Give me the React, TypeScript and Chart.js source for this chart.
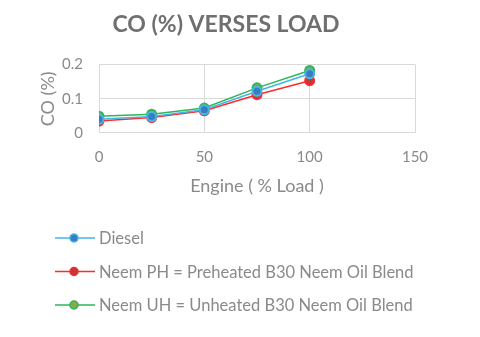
import React, { useEffect, useRef } from "react";
import { Chart, registerables } from "chart.js";

Chart.register(...registerables);

const loads = [0, 25, 50, 75, 100];
const dieselCO = [0.04, 0.048, 0.068, 0.122, 0.173];
const neemPHCO = [0.035, 0.045, 0.065, 0.112, 0.153];
const neemUHCO = [0.049, 0.055, 0.073, 0.132, 0.183];
const seriesNames = [
  "Diesel",
  "Neem PH = Preheated B30 Neem Oil Blend",
  "Neem UH = Unheated B30 Neem Oil Blend",
];
const xTicks = [0, 50, 100, 150];
const yTicks = [0, 0.1, 0.2];

const FONT = "Lato, 'Open Sans', sans-serif";

const legendPlugin = {
  id: "stackLegend",
  afterDraw(chart: any) {
    const ctx = chart.ctx;
    const x0 = 55;
    const y0 = 238;
    const gap = 33.5;
    ctx.save();
    chart.data.datasets.forEach((ds: any, i: number) => {
      const y = y0 + i * gap;
      ctx.strokeStyle = ds.borderColor;
      ctx.lineWidth = 1.5;
      ctx.beginPath();
      ctx.moveTo(x0, y);
      ctx.lineTo(x0 + 40, y);
      ctx.stroke();
      ctx.beginPath();
      ctx.arc(x0 + 19, y, 4, 0, Math.PI * 2);
      ctx.fillStyle = ds.pointBackgroundColor;
      ctx.fill();
      ctx.strokeStyle = ds.pointBorderColor;
      ctx.lineWidth = 1.5;
      ctx.stroke();
      ctx.fillStyle = "#8a8a8a";
      ctx.font = `16.5px ${FONT}`;
      ctx.textBaseline = "middle";
      ctx.textAlign = "left";
      ctx.fillText(ds.label, x0 + 44, y + 1);
    });
    ctx.restore();
  },
};

export default function App() {
  const ref = useRef<HTMLCanvasElement>(null);
  useEffect(() => {
    if (!ref.current) return;
    const mk = (vals: number[]) => loads.map((x, i) => ({ x, y: vals[i] }));
    const chart = new Chart(ref.current, {
      type: "line",
      data: {
        datasets: [
          {
            label: seriesNames[0],
            data: mk(dieselCO),
            borderColor: "#45b5e6",
            pointBackgroundColor: "#3a7cc0",
            pointBorderColor: "#45b5e6",
            borderWidth: 1.5,
            pointRadius: 4.5,
            pointBorderWidth: 2,
          },
          {
            label: seriesNames[1],
            data: mk(neemPHCO),
            borderColor: "#ff2a2a",
            pointBackgroundColor: "#c0383a",
            pointBorderColor: "#ff2a2a",
            borderWidth: 1.5,
            pointRadius: 4.5,
            pointBorderWidth: 2,
          },
          {
            label: seriesNames[2],
            data: mk(neemUHCO),
            borderColor: "#2fb55a",
            pointBackgroundColor: "#8aa94a",
            pointBorderColor: "#2fb55a",
            borderWidth: 1.5,
            pointRadius: 4.5,
            pointBorderWidth: 2,
          },
        ],
      },
      options: {
        animation: false,
        responsive: true,
        maintainAspectRatio: false,
        layout: { padding: { left: 37, right: 65, top: 0, bottom: 140 } },
        plugins: {
          legend: { display: false },
          tooltip: { enabled: false },
          title: {
            display: true,
            text: "CO (%) VERSES LOAD",
            color: "#6f6f6f",
            font: { family: FONT, size: 23, weight: "bold" },
            padding: { top: 11, bottom: 26 },
          },
        },
        scales: {
          x: {
            type: "linear",
            min: 0,
            max: 150,
            afterBuildTicks: (s: any) => {
              s.ticks = xTicks.map((v) => ({ value: v }));
            },
            afterFit: (s: any) => {
              s.height = 64;
            },
            grid: { color: "#d9d9d9", drawTicks: false },
            border: { display: false },
            ticks: {
              color: "#8a8a8a",
              font: { family: FONT, size: 15 },
              padding: 15,
            },
            title: {
              display: true,
              text: "Engine ( % Load )",
              color: "#8a8a8a",
              font: { family: FONT, size: 18 },
              padding: { top: 4, bottom: 0 },
            },
          },
          y: {
            min: 0,
            max: 0.2,
            afterBuildTicks: (s: any) => {
              s.ticks = yTicks.map((v) => ({ value: v }));
            },
            afterFit: (s: any) => {
              s.width = 62;
            },
            grid: { color: "#d9d9d9", drawTicks: false },
            border: { display: false },
            ticks: {
              color: "#8a8a8a",
              font: { family: FONT, size: 15 },
              padding: 16,
              callback: (v: any) => String(v),
            },
            title: {
              display: true,
              text: "CO (%)",
              color: "#8a8a8a",
              font: { family: FONT, size: 18 },
              padding: { top: 0, bottom: 0 },
            },
          },
        },
      },
      plugins: [legendPlugin],
    });
    return () => chart.destroy();
  }, []);
  return (
    <div style={{ position: "fixed", left: 0, top: 0, width: 480, height: 337, background: "#fff" }}>
      <canvas ref={ref} />
    </div>
  );
}
